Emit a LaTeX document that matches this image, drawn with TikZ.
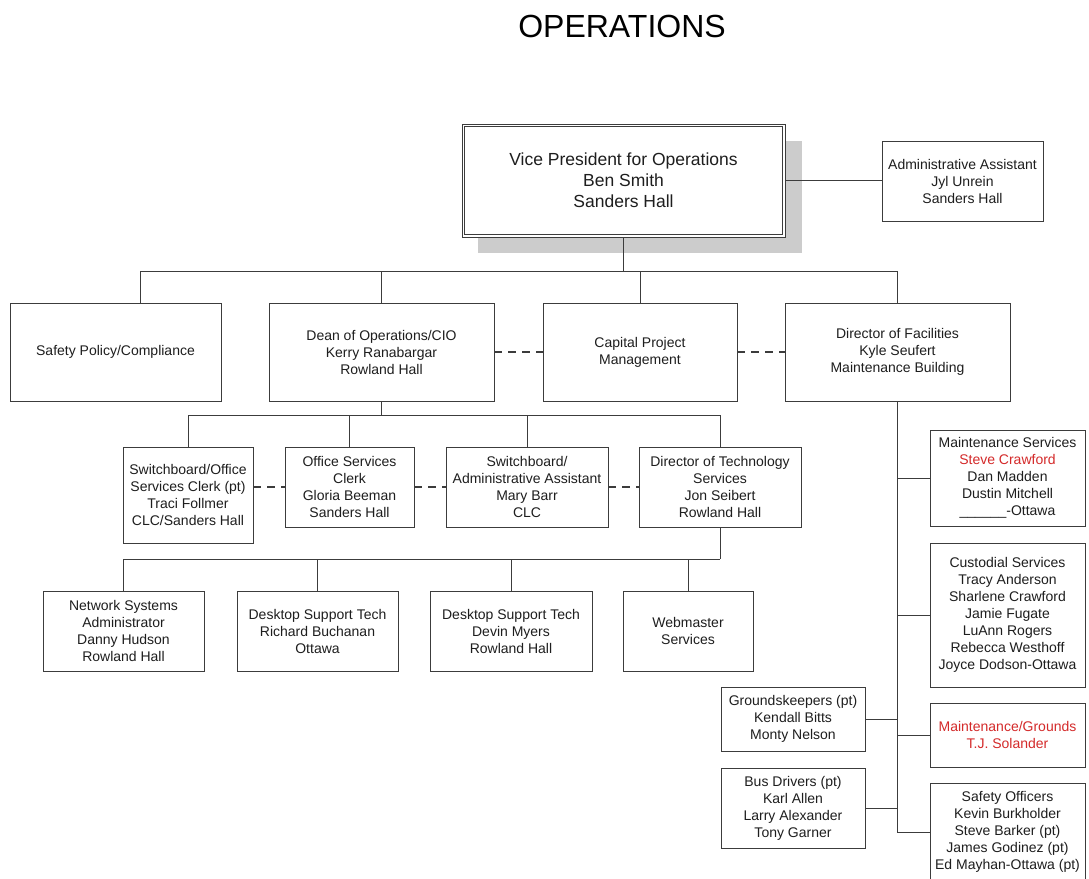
\documentclass[tikz,border=0pt]{standalone}
\usepackage{fontspec}
\setmainfont{Liberation Sans}
\definecolor{ln}{HTML}{3C3C3C}
\definecolor{tx}{HTML}{1E1E1E}
\definecolor{rd}{HTML}{D42A2A}
\newcommand\bx[7][]{\node[box,#1,minimum width={(#5-#3)*1pt},minimum height={(#6-#4)*1pt}] (#2) at ({(#3+#5)/2},{(#4+#6)/2}) {#7};}
\tikzset{
  box/.style={draw=ln, line width=0.9pt, fill=white, text=tx, align=center, inner sep=1pt, font=\fontsize{14}{17}\selectfont},
  conn/.style={draw=ln, line width=0.9pt},
  dashconn/.style={draw=ln, line width=1.2pt, dash pattern=on 8pt off 6pt},
}
\begin{document}
\begin{tikzpicture}[x=1pt,y=-1pt]
\useasboundingbox (0,0) rectangle (1089,878);
\fill[white] (0,0) rectangle (1089,878);
% title
\node[font=\fontsize{32}{38}\selectfont, text=black, inner sep=0pt] (title) at (622,26) {OPERATIONS};
% shadow of VP box
\fill[gray!40] (478,141) rectangle (802,253);
\bx[font=\fontsize{17.5}{21}\selectfont]{vp}{462}{124}{785}{237}{Vice President for Operations\\Ben Smith\\Sanders Hall}
\draw[draw=ln, line width=0.9pt] ([shift={(3,3)}]vp.north west) rectangle ([shift={(-3,-3)}]vp.south east);
\bx{admin}{882}{141}{1043}{221}{Administrative Assistant\\Jyl Unrein\\Sanders Hall}
% row 2
\bx{safety}{10}{303}{221}{401}{Safety Policy/Compliance}
\bx{dean}{269}{303}{494}{401}{Dean of Operations/CIO\\Kerry Ranabargar\\Rowland Hall}
\bx{capital}{543}{303}{737}{401}{Capital Project\\Management}
\bx{facil}{785}{303}{1010}{401}{Director of Facilities\\Kyle Seufert\\Maintenance Building}
% row 3
\bx{swoff}{123}{447}{253}{543}{Switchboard/Office\\Services Clerk (pt)\\Traci Follmer\\CLC/Sanders Hall}
\bx{offsvc}{285}{447}{414}{527}{Office Services\\Clerk\\Gloria Beeman\\Sanders Hall}
\bx{swadm}{446}{447}{608}{527}{Switchboard/\\Administrative Assistant\\Mary Barr\\CLC}
\bx{dirtech}{639}{447}{801}{527}{Director of Technology\\Services\\Jon Seibert\\Rowland Hall}
% row 4
\bx{network}{43}{591}{204}{671}{Network Systems\\Administrator\\Danny Hudson\\Rowland Hall}
\bx{deskA}{237}{591}{398}{671}{Desktop Support Tech\\Richard Buchanan\\Ottawa}
\bx{deskB}{430}{591}{592}{671}{Desktop Support Tech\\Devin Myers\\Rowland Hall}
\bx{webm}{623}{591}{753}{671}{Webmaster\\Services}
% right column
\bx{maint}{930}{430}{1085}{526}{Maintenance Services\\\textcolor{rd}{Steve Crawford}\\Dan Madden\\Dustin Mitchell\\\_\_\_\_\_\_-Ottawa}
\bx{cust}{930}{543}{1085}{687}{Custodial Services\\Tracy Anderson\\Sharlene Crawford\\Jamie Fugate\\LuAnn Rogers\\Rebecca Westhoff\\Joyce Dodson-Ottawa}
\bx{grounds}{721}{687}{865}{751}{Groundskeepers (pt)\\Kendall Bitts\\Monty Nelson}
\bx[text=rd]{mg}{930}{703}{1085}{767}{Maintenance/Grounds\\T.J. Solander}
\bx{busd}{721}{768}{865}{848}{Bus Drivers (pt)\\Karl Allen\\Larry Alexander\\Tony Garner}
\bx{safeoff}{930}{783}{1085}{881}{Safety Officers\\Kevin Burkholder\\Steve Barker (pt)\\James Godinez (pt)\\Ed Mayhan-Ottawa (pt)}
% connectors level 1
\coordinate (t1) at (140,271);
\coordinate (t2) at (898,271);
\draw[conn] (vp.south) -- (vp.south |- t1);
\draw[conn] (t1) -- (t2);
\draw[conn] (t1) -- (t1 |- safety.north);
\draw[conn] (dean.north) -- (dean.north |- t1);
\draw[conn] (capital.north) -- (capital.north |- t1);
\draw[conn] (facil.north) -- (facil.north |- t1);
\draw[conn] (vp.east) -- (vp.east -| admin.west);
\draw[dashconn] (dean.east) -- (capital.west);
\draw[dashconn] (capital.east) -- (facil.west);
% connectors level 2
\coordinate (m1) at (188,415);
\coordinate (m2) at (720,415);
\draw[conn] (dean.south) -- (dean.south |- m1);
\draw[conn] (m1) -- (m2);
\draw[conn] (swoff.north) -- (swoff.north |- m1);
\draw[conn] (offsvc.north) -- (offsvc.north |- m1);
\draw[conn] (swadm.north) -- (swadm.north |- m1);
\draw[conn] (dirtech.north) -- (dirtech.north |- m1);
\draw[dashconn] (offsvc.west -| swoff.east) -- (offsvc.west);
\draw[dashconn] (offsvc.east) -- (swadm.west);
\draw[dashconn] (swadm.east) -- (dirtech.west);
% connectors level 3
\coordinate (n1) at (124,559);
\coordinate (n2) at (720,559);
\draw[conn] (dirtech.south) -- (dirtech.south |- n1);
\draw[conn] (n1) -- (n2);
\draw[conn] (network.north) -- (network.north |- n1);
\draw[conn] (deskA.north) -- (deskA.north |- n1);
\draw[conn] (deskB.north) -- (deskB.north |- n1);
\draw[conn] (webm.north) -- (webm.north |- n1);
% facilities trunk
\draw[conn] (facil.south) -- (facil.south |- safeoff.west) -- (safeoff.west);
\draw[conn] (facil.south |- maint.west) -- (maint.west);
\draw[conn] (facil.south |- cust.west) -- (cust.west);
\draw[conn] (facil.south |- mg.west) -- (mg.west);
\draw[conn] (grounds.east) -- (grounds.east -| facil.south);
\draw[conn] (busd.east) -- (busd.east -| facil.south);
\end{tikzpicture}
\end{document}
